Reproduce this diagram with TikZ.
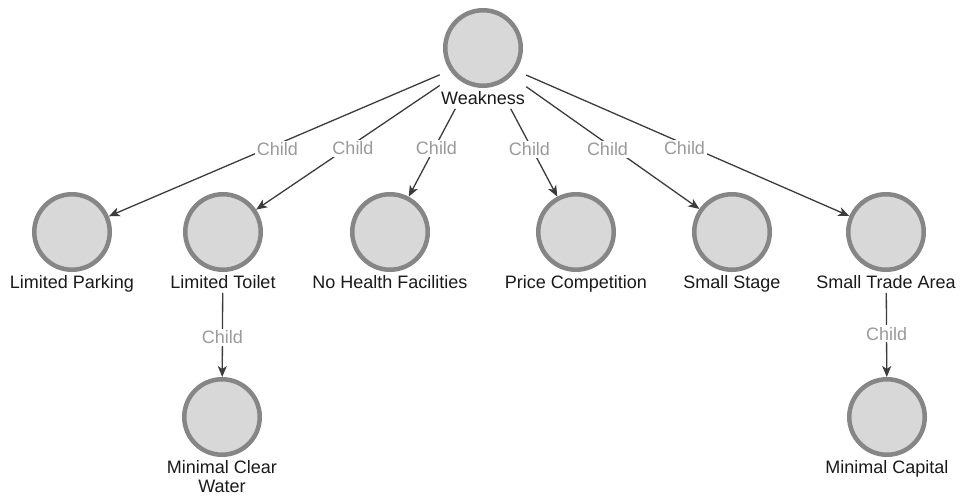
\documentclass[tikz,border=0pt]{standalone}
\usepackage{fontspec}
\setmainfont{Liberation Sans}
\usetikzlibrary{arrows.meta,fit}
\definecolor{nodefill}{HTML}{D8D8D8}
\definecolor{ringgray}{HTML}{868686}
\definecolor{edgegray}{HTML}{3C3C3C}
\definecolor{relgray}{HTML}{9A9A9A}
\definecolor{captext}{HTML}{1A1A1A}
\begin{document}
\begin{tikzpicture}[x=1pt,y=-1pt,
  entity/.style={circle, draw=ringgray, line width=4.5pt, fill=nodefill, minimum size=75.5pt, inner sep=0pt},
  caption/.style={anchor=north, inner sep=0pt, text=captext, font=\fontsize{18}{19}\selectfont, align=center},
  group/.style={inner xsep=1pt, inner ysep=4pt, draw=none},
  link/.style={draw=edgegray, line width=1.3pt, -{Stealth[length=11pt,width=9pt,inset=3pt]}},
  rel/.style={fill=white, text=relgray, inner sep=2pt, font=\fontsize{18}{19}\selectfont}]

\fill[white] (0,0) rectangle (960,502);
\useasboundingbox (0,0) rectangle (960,502);

% root
\node[entity] (wc) at (483,48) {};
\node[caption] (wl) at (483,91) {Weakness};
\node[group, fit=(wc)(wl)] (w) {};

% first level
\node[entity] (lpc) at (72,232) {};
\node[caption] (lpl) at (72,275) {Limited Parking};
\node[group, fit=(lpc)(lpl)] (lp) {};

\node[entity] (ltc) at (223,232) {};
\node[caption] (ltl) at (223,275) {Limited Toilet};
\node[group, fit=(ltc)(ltl)] (lt) {};

\node[entity] (nhc) at (390,232) {};
\node[caption] (nhl) at (390,275) {No Health Facilities};
\node[group, fit=(nhc)(nhl)] (nh) {};

\node[entity] (pcc) at (576,232) {};
\node[caption] (pcl) at (576,275) {Price Competition};
\node[group, fit=(pcc)(pcl)] (pc) {};

\node[entity] (ssc) at (732,232) {};
\node[caption] (ssl) at (732,275) {Small Stage};
\node[group, fit=(ssc)(ssl)] (ss) {};

\node[entity] (stc) at (886,232) {};
\node[caption] (stl) at (886,275) {Small Trade Area};
\node[group, fit=(stc)(stl)] (st) {};

% second level
\node[entity] (mwc) at (222,417) {};
\node[caption] (mwl) at (222,460) {Minimal Clear\\Water};
\node[group, fit=(mwc)(mwl)] (mw) {};

\node[entity] (mcc) at (887,417) {};
\node[caption] (mcl) at (887,460) {Minimal Capital};
\node[group, fit=(mcc)(mcl)] (mc) {};

% connectors
\draw[link] (w) -- (lpc);
\draw[link] (w) -- (ltc);
\draw[link] (w) -- (nhc);
\draw[link] (w) -- (pcc);
\draw[link] (w) -- (ssc);
\draw[link] (w) -- (stc);
\draw[link] (lt) -- (mwc);
\draw[link] (st) -- (mcc);

% relation labels
\path (w.center) -- node[rel] {Child} (lp.center);
\path (w.center) -- node[rel] {Child} (lt.center);
\path (w.center) -- node[rel] {Child} (nh.center);
\path (w.center) -- node[rel] {Child} (pc.center);
\path (w.center) -- node[rel] {Child} (ss.center);
\path (w.center) -- node[rel] {Child} (st.center);
\path (lt.center) -- node[rel] {Child} (mw.center);
\path (st.center) -- node[rel] {Child} (mc.center);
\end{tikzpicture}
\end{document}
